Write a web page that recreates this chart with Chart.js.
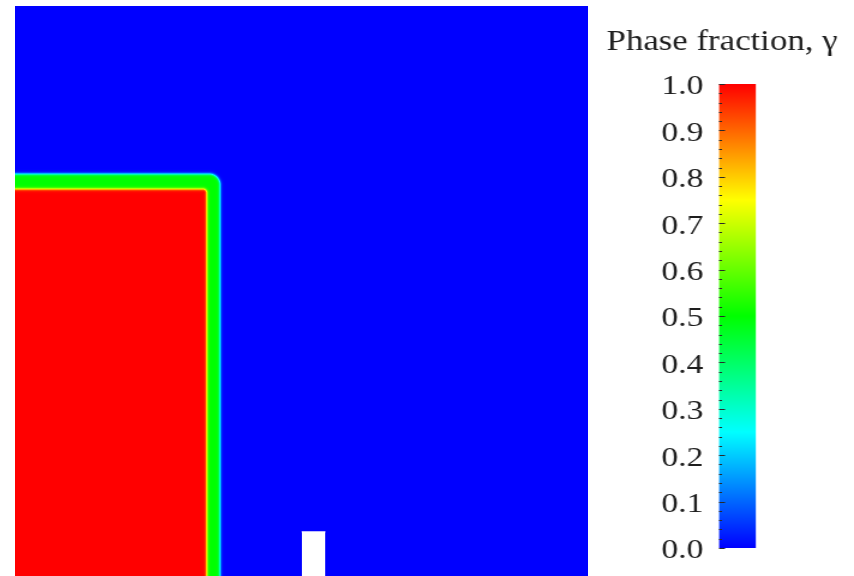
<!DOCTYPE html>
<html>
<head>
<meta charset="utf-8">
<script src="https://cdn.jsdelivr.net/npm/chart.js@4.4.1/dist/chart.umd.min.js"></script>
<style>
body{margin:0;background:#fff;width:854px;height:576px;overflow:hidden;position:relative}
#field{position:absolute;left:0;top:0}
#bar{position:absolute;left:590px;top:0}
</style>
</head>
<body>
<canvas id="field" width="854" height="576"></canvas>
<canvas id="bar" width="220" height="576" style="width:264px;height:576px"></canvas>
<script>
// domain (m)
const domainX = [0, 0.584]
const domainY = [0.003, 0.584]

// water column: edge where gamma leaves 1 (red) and where it reaches 0 (blue) - width, height
const redEdge = [0.1955, 0.3975]
const blueEdge = [0.209, 0.4128]
const cornerRadius = [0.004, 0.011]
const edgeSoftness = 0.0008

// obstacle on the floor
const obstacleX = [0.2922, 0.3164]
const obstacleTop = [0.048, 0.048]

// colour map
const cmapStops = [0, 0.25, 0.5, 0.75, 1]
const cmapColors = [[0,0,255],[0,255,255],[0,255,0],[255,255,0],[255,0,0]]

// colour bar ticks
const cbTicks = [0.0,0.1,0.2,0.3,0.4,0.5,0.6,0.7,0.8,0.9,1.0]
const cbMinorStep = 0.02

const serif = "'Liberation Serif', 'DejaVu Serif', serif"

function colorFor(g){
let i = 0
while(i < cmapStops.length-2 && g > cmapStops[i+1]) i++
let t = (g - cmapStops[i]) / (cmapStops[i+1] - cmapStops[i])
if(t < 0) t = 0
if(t > 1) t = 1
let a = cmapColors[i], b = cmapColors[i+1]
return [a[0]+(b[0]-a[0])*t, a[1]+(b[1]-a[1])*t, a[2]+(b[2]-a[2])*t]
}

function distToColumn(x, y, edge, r){
let qx = x - (edge[0] - r)
let qy = y - (edge[1] - r)
if(qx > 0 && qy > 0) return Math.sqrt(qx*qx + qy*qy) - r
return Math.max(qx, qy) - r
}

function step(d){
return 1 / (1 + Math.exp(d / edgeSoftness))
}

function gammaAt(x, y){
return 0.5 * (step(distToColumn(x, y, redEdge, cornerRadius[0])) + step(distToColumn(x, y, blueEdge, cornerRadius[1])))
}

const fieldPlugin = {
id:"fieldPlugin",
beforeDatasetsDraw(chart){
const ctx = chart.ctx
const a = chart.chartArea
const xs = chart.scales.x
const ys = chart.scales.y
const w = Math.round(a.right - a.left)
const h = Math.round(a.bottom - a.top)
const img = ctx.createImageData(w, h)
for(let j=0;j<h;j++){
let yv = ys.getValueForPixel(a.top + j + 0.5)
for(let i=0;i<w;i++){
let xv = xs.getValueForPixel(a.left + i + 0.5)
let c = colorFor(gammaAt(xv, yv))
let k = (j*w + i) * 4
img.data[k] = c[0]
img.data[k+1] = c[1]
img.data[k+2] = c[2]
img.data[k+3] = 255
}
}
ctx.putImageData(img, Math.round(a.left), Math.round(a.top))
}
}

new Chart(document.getElementById("field"),{
type:"line",
data:{
datasets:[{
label:"obstacle",
data:[{x:obstacleX[0],y:obstacleTop[0]},{x:obstacleX[1],y:obstacleTop[1]}],
borderColor:"#ffffff",
borderWidth:1,
backgroundColor:"#ffffff",
fill:"start",
pointRadius:0
}]
},
options:{
responsive:false,
animation:false,
layout:{padding:{left:15,right:266,top:6,bottom:0}},
plugins:{legend:{display:false},tooltip:{enabled:false}},
scales:{
x:{type:"linear",min:domainX[0],max:domainX[1],display:false},
y:{type:"linear",min:domainY[0],max:domainY[1],display:false}
}
},
plugins:[fieldPlugin]
})

const minorTickPlugin = {
id:"minorTicks",
afterDatasetsDraw(chart){
const ctx = chart.ctx
const a = chart.chartArea
const ys = chart.scales.y
ctx.save()
ctx.strokeStyle = "#2a2a2a"
ctx.lineWidth = 1
for(let v=0; v<=1.0001; v+=cbMinorStep){
let py = Math.round(ys.getPixelForValue(v)) + 0.5
let major = Math.abs(v*10 - Math.round(v*10)) < 0.001
ctx.beginPath()
ctx.moveTo(a.left, py)
ctx.lineTo(a.left + (major ? 5 : 2.5), py)
ctx.stroke()
}
ctx.restore()
}
}

new Chart(document.getElementById("bar"),{
type:"bar",
data:{
labels:["γ"],
datasets:[{
data:[[0,1]],
borderWidth:0,
barPercentage:1,
categoryPercentage:1,
backgroundColor:function(context){
const chart = context.chart
if(!chart.chartArea) return "#00f"
const ys = chart.scales.y
const grad = chart.ctx.createLinearGradient(0, ys.getPixelForValue(0), 0, ys.getPixelForValue(1))
for(let i=0;i<cmapStops.length;i++){
let c = cmapColors[i]
grad.addColorStop(cmapStops[i], "rgb(" + c[0] + "," + c[1] + "," + c[2] + ")")
}
return grad
}
}]
},
options:{
responsive:false,
animation:false,
layout:{padding:{left:0,right:0,top:0,bottom:28}},
plugins:{
legend:{display:false},
tooltip:{enabled:false},
title:{
display:true,
text:"Phase fraction, γ",
color:"#1e1e1e",
font:{family:serif,size:29,weight:"normal"},
padding:{top:25,bottom:24.2}
}
},
scales:{
x:{display:false},
y:{
min:0,max:1,
afterFit:function(s){ s.width = 107.5 },
afterBuildTicks:function(s){ s.ticks = cbTicks.map(v => ({value:v})) },
border:{display:false},
grid:{display:false},
ticks:{
padding:5,
labelOffset:3,
color:"#1e1e1e",
font:{family:serif,size:28},
callback:function(v){ return Number(v).toFixed(1) }
}
},
yr:{
position:"right",
afterFit:function(s){ s.width = 81.7 },
border:{display:false},
grid:{display:false},
ticks:{display:false}
}
}
},
plugins:[minorTickPlugin]
})
</script>
</body>
</html>
